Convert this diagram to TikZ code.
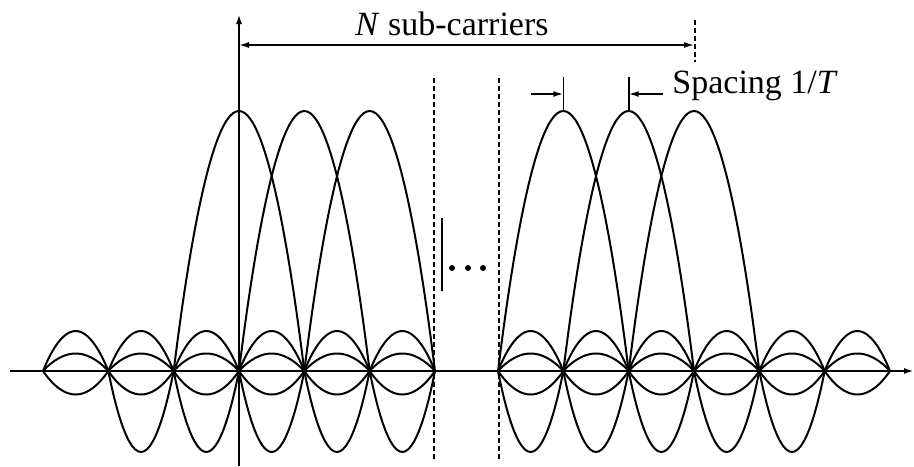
\documentclass[tikz,border=0pt]{standalone}
\usepackage{fontspec}
\setmainfont{Liberation Serif}
\usetikzlibrary{arrows.meta}
\begin{document}
\begin{tikzpicture}[x=0.5pt,y=-0.5pt,
  curve/.style={line width=1pt, line join=round},
  axis/.style={line width=1pt},
  guide/.style={line width=0.8pt, dash pattern=on 2.5pt off 1.5pt},
  dim/.style={line width=0.8pt},
  tipend/.style={-{Latex[length=5pt,width=3pt]}},
  lbl/.style={font=\fontsize{17}{20}\selectfont, inner sep=0pt}]
\useasboundingbox (0,0) rectangle (914,466);
\def\sp{65.33}
\def\ax{371}
% side lobes
\foreach \base/\deepfrom/\deepto in {43/1/5, 498/0/4} {
  \foreach \k in {0,...,5} {
    \pgfmathsetmacro\xa{\base+\k*\sp}
    \pgfmathsetmacro\xm{\xa+\sp/2}
    \pgfmathsetmacro\xb{\xa+\sp}
    \foreach \a in {40,17.5,-23.5} {
      \pgfmathsetmacro\yb{\ax-\a}
      \draw[curve] (\xa,\ax) parabola bend (\xm,\yb) (\xb,\ax);
    }
    \ifnum\k<\deepfrom\relax\else\ifnum\k>\deepto\relax\else
      \pgfmathsetmacro\yd{\ax+81}
      \draw[curve] (\xa,\ax) parabola bend (\xm,\yd) (\xb,\ax);
    \fi\fi
  }
}
% main lobes
\foreach \base/\k in {43/3, 43/4, 43/5, 498/1, 498/2, 498/3} {
  \pgfmathsetmacro\xp{\base+\k*\sp}
  \pgfmathsetmacro\xl{\xp-\sp}
  \pgfmathsetmacro\xr{\xp+\sp}
  \draw[curve] (\xl,\ax) parabola bend (\xp,111) (\xr,\ax);
}
% axes
\coordinate (xs) at (10,371);
\coordinate (xe) at (914,371);
\draw[axis, tipend] (xs) -- (xe);
\coordinate (ys) at (239,466);
\coordinate (ye) at (239,14);
\draw[axis, tipend] (ys) -- (ye);
% N sub-carriers
\coordinate (nl) at (239,45);
\coordinate (nr) at (694,45);
\draw[dim, {Latex[length=5pt,width=3pt]}-{Latex[length=5pt,width=3pt]}] (nl) -- (nr);
\coordinate (nd1) at (695,20);
\coordinate (nd2) at (695,62);
\draw[guide] (nd1) -- (nd2);
\node[lbl, anchor=base] (nlab) at (452,35) {\textit{N} sub-carriers};
% gap guides
\coordinate (g1t) at (434,78);
\coordinate (g1b) at (434,462);
\coordinate (g2t) at (499,78);
\coordinate (g2b) at (499,462);
\draw[guide] (g1t) -- (g1b);
\draw[guide] (g2t) -- (g2b);
% bar and dots
\coordinate (bt) at (442,218);
\coordinate (bb) at (442,291);
\draw[axis] (bt) -- (bb);
\foreach \x in {452,468,483} \fill (\x,268) circle (1.5pt);
% spacing
\coordinate (t1t) at (563.3,77);
\coordinate (t1b) at (563.3,111);
\coordinate (t2t) at (628.7,77);
\coordinate (t2b) at (628.7,111);
\draw[dim] (t1t) -- (t1b);
\draw[dim] (t2t) -- (t2b);
\coordinate (a1s) at (531,94);
\coordinate (a1e) at (563.3,94);
\coordinate (a2s) at (663,94);
\coordinate (a2e) at (628.7,94);
\draw[dim, tipend] (a1s) -- (a1e);
\draw[dim, tipend] (a2s) -- (a2e);
\node[lbl, anchor=base west] (slab) at (672,93) {Spacing 1/\textit{T}};
\end{tikzpicture}
\end{document}
